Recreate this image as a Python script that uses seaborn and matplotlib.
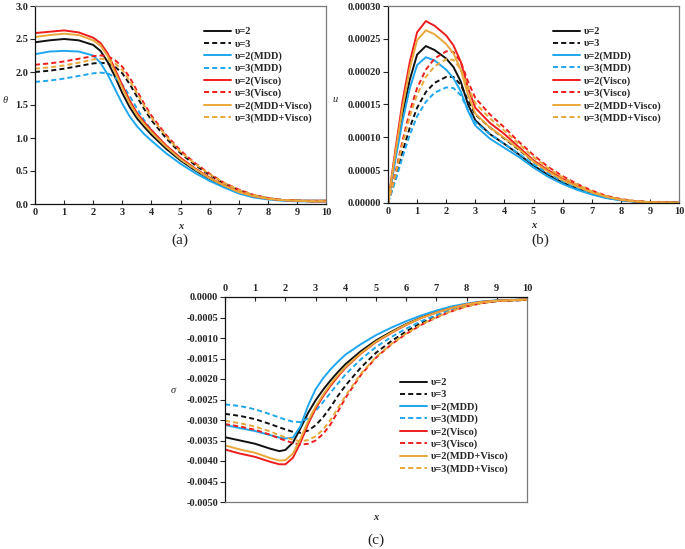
import matplotlib
matplotlib.use("Agg")
import matplotlib.pyplot as plt
import seaborn as sns
import pandas as pd
from matplotlib.ticker import FuncFormatter, MultipleLocator

# ---- data ----
labels = ["υ=2", "υ=3", "υ=2(MDD)", "υ=3(MDD)",
          "υ=2(Visco)", "υ=3(Visco)", "υ=2(MDD+Visco)", "υ=3(MDD+Visco)"]
colors = ["#111111", "#111111", "#1ea7ef", "#1ea7ef",
          "#ee1d1d", "#ee1d1d", "#e8a83a", "#e8a83a"]

# (a) theta
xa = [0, 0.5, 1, 1.5, 2, 2.25, 2.5, 2.75, 3, 3.25, 3.5, 3.75, 4, 4.5, 5,
      5.5, 6, 6.5, 7, 7.5, 8, 8.5, 9, 9.5, 10]
theta_v2 = [2.45, 2.48, 2.50, 2.48, 2.41, 2.32, 2.15, 1.93, 1.68, 1.47, 1.30, 1.17, 1.05,
            0.84, 0.66, 0.51, 0.38, 0.27, 0.18, 0.12, 0.08, 0.06, 0.05, 0.04, 0.04]
theta_v3 = [2.00, 2.02, 2.05, 2.09, 2.13, 2.14, 2.13, 2.08, 1.98, 1.82, 1.63, 1.44, 1.27,
            1.00, 0.77, 0.59, 0.44, 0.31, 0.21, 0.13, 0.09, 0.06, 0.05, 0.05, 0.05]
theta_v2_mdd = [2.27, 2.31, 2.32, 2.31, 2.25, 2.14, 1.96, 1.74, 1.52, 1.33, 1.18, 1.06, 0.96,
                0.77, 0.61, 0.47, 0.35, 0.25, 0.16, 0.10, 0.07, 0.05, 0.04, 0.04, 0.04]
theta_v3_mdd = [1.85, 1.87, 1.90, 1.94, 1.98, 1.99, 1.98, 1.92, 1.81, 1.64, 1.45, 1.27, 1.12,
                0.88, 0.68, 0.52, 0.39, 0.28, 0.18, 0.12, 0.08, 0.06, 0.05, 0.05, 0.05]
theta_v2_vis = [2.59, 2.61, 2.63, 2.60, 2.52, 2.44, 2.28, 2.04, 1.80, 1.57, 1.38, 1.24, 1.12,
                0.89, 0.70, 0.54, 0.40, 0.28, 0.19, 0.12, 0.08, 0.06, 0.05, 0.04, 0.04]
theta_v3_vis = [2.11, 2.13, 2.16, 2.20, 2.24, 2.25, 2.24, 2.18, 2.08, 1.92, 1.72, 1.52, 1.34,
                1.05, 0.81, 0.62, 0.46, 0.32, 0.22, 0.14, 0.09, 0.06, 0.05, 0.05, 0.05]
theta_v2_both = [2.53, 2.56, 2.58, 2.56, 2.48, 2.40, 2.24, 2.00, 1.76, 1.53, 1.35, 1.21, 1.09,
                 0.87, 0.68, 0.53, 0.39, 0.28, 0.18, 0.12, 0.08, 0.06, 0.05, 0.04, 0.04]
theta_v3_both = [2.05, 2.07, 2.10, 2.14, 2.19, 2.20, 2.19, 2.13, 2.03, 1.87, 1.68, 1.49, 1.31,
                 1.03, 0.79, 0.61, 0.45, 0.32, 0.21, 0.14, 0.09, 0.06, 0.05, 0.05, 0.05]

# (b) u, in units of 1e-5
xb = [0, 0.25, 0.5, 0.75, 1, 1.3, 1.6, 2, 2.25, 2.5, 2.75, 3, 3.5, 4, 4.5, 5,
      5.5, 6, 6.5, 7, 7.5, 8, 8.5, 9, 10]
u_v2 = [0, 7, 13.5, 18.8, 22.6, 23.9, 23.3, 22, 20.7, 18.5, 15, 12.6, 10.5, 9,
        7.4, 5.7, 4.3, 3.1, 2.2, 1.4, 0.8, 0.45, 0.22, 0.1, 0.04]
u_v3 = [0, 3.7, 7.8, 11.5, 14.5, 16.9, 18.3, 19.2, 19.2, 18, 15.6, 13.5, 11.5, 9.8,
        8.1, 6.3, 4.8, 3.5, 2.5, 1.6, 0.95, 0.5, 0.25, 0.12, 0.05]
u_v2_mdd = [0, 6.5, 12.5, 17.5, 21, 22.2, 21.7, 20.3, 19, 17, 14, 11.8, 9.8, 8.4,
            7, 5.4, 4.0, 2.9, 2.0, 1.3, 0.75, 0.4, 0.2, 0.1, 0.04]
u_v3_mdd = [0, 3.3, 7, 10.4, 13.2, 15.4, 16.8, 17.6, 17.5, 16.4, 14.2, 12.3, 10.5, 9,
            7.5, 5.9, 4.5, 3.3, 2.3, 1.5, 0.9, 0.48, 0.24, 0.11, 0.05]
u_v2_vis = [0, 8, 15.5, 21.5, 26, 27.7, 27, 25.5, 24, 21.5, 17.5, 14.5, 12.2, 10.5,
            8.5, 6.5, 5, 3.7, 2.6, 1.7, 1.0, 0.5, 0.25, 0.12, 0.05]
u_v3_vis = [0, 4.5, 9.5, 14, 17.5, 20.3, 22, 23.1, 23, 21.5, 18.5, 16, 13.5, 11.5,
            9.3, 7.3, 5.5, 4.1, 2.9, 1.9, 1.1, 0.6, 0.3, 0.15, 0.05]
u_v2_both = [0, 7.5, 14.5, 20.5, 24.8, 26.3, 25.7, 24.2, 22.8, 20.3, 16.5, 13.6, 11.5, 9.9,
             8.2, 6.3, 4.8, 3.5, 2.5, 1.6, 0.95, 0.5, 0.25, 0.12, 0.05]
u_v3_both = [0, 4.2, 9, 13.2, 16.5, 19.2, 20.8, 21.9, 21.8, 20.4, 17.6, 15.2, 12.9, 11,
             9, 7.0, 5.3, 3.9, 2.8, 1.8, 1.05, 0.55, 0.28, 0.13, 0.05]

# (c) sigma, in units of 1e-4
xc = [0, 0.5, 1, 1.5, 1.8, 2, 2.25, 2.5, 2.75, 3, 3.25, 3.5, 3.75, 4, 4.5, 5,
      5.5, 6, 6.5, 7, 7.5, 8, 8.5, 9, 10]
s_v2 = [-34.2, -35, -35.8, -37, -37.6, -37.3, -35.5, -32, -28.3, -25.2, -22.6, -20.3, -18.2,
        -16.3, -13.2, -10.6, -8.5, -6.6, -5, -3.7, -2.6, -1.8, -1.2, -0.9, -0.6]
s_v3 = [-28.5, -29, -29.8, -31, -31.8, -32.3, -32.9, -33.1, -32.6, -31.3, -29.3, -26.8, -24,
        -21.5, -17.2, -13.6, -10.8, -8.4, -6.3, -4.7, -3.3, -2.2, -1.4, -1.0, -0.7]
s_v2_mdd = [-31.2, -32, -32.7, -33.7, -34.3, -34.5, -34.3, -31.5, -26.5, -22.5, -19.8, -17.6, -15.7,
            -14, -11.5, -9.3, -7.5, -5.9, -4.5, -3.3, -2.3, -1.6, -1.1, -0.8, -0.6]
s_v3_mdd = [-26.2, -26.6, -27.4, -28.6, -29.4, -29.9, -30.4, -30.5, -29.6, -27.8, -25.6, -23.3, -21,
            -18.8, -15.2, -12.2, -9.8, -7.7, -5.9, -4.4, -3.1, -2.1, -1.4, -1.0, -0.7]
s_v2_vis = [-37.2, -38.2, -39, -40.2, -40.8, -40.8, -39.2, -35.5, -31, -27.2, -24.2, -21.6, -19.3,
            -17.2, -13.8, -11, -8.8, -6.8, -5.1, -3.8, -2.7, -1.8, -1.2, -0.9, -0.6]
s_v3_vis = [-31, -31.6, -32.4, -33.6, -34.5, -35, -35.6, -36, -35.8, -35, -33.4, -31, -27.8,
            -24.5, -19, -14.8, -11.6, -9, -6.8, -5, -3.5, -2.3, -1.5, -1.0, -0.7]
s_v2_both = [-36.2, -37.2, -38, -39.3, -39.9, -39.8, -38.2, -34.6, -30.3, -26.7, -23.8, -21.2, -19,
             -17, -13.7, -10.9, -8.7, -6.7, -5.1, -3.8, -2.7, -1.8, -1.2, -0.9, -0.6]
s_v3_both = [-30.2, -30.8, -31.6, -32.8, -33.7, -34.2, -34.8, -35.2, -34.9, -34, -32.3, -29.9, -27,
             -24, -18.7, -14.6, -11.5, -8.9, -6.7, -4.9, -3.4, -2.3, -1.5, -1.0, -0.7]

theta_all = [theta_v2, theta_v3, theta_v2_mdd, theta_v3_mdd,
             theta_v2_vis, theta_v3_vis, theta_v2_both, theta_v3_both]
u_all = [u_v2, u_v3, u_v2_mdd, u_v3_mdd, u_v2_vis, u_v3_vis, u_v2_both, u_v3_both]
s_all = [s_v2, s_v3, s_v2_mdd, s_v3_mdd, s_v2_vis, s_v3_vis, s_v2_both, s_v3_both]

# ---- style ----
sns.set_style("ticks")
plt.rcParams["font.family"] = ["Liberation Serif", "DejaVu Serif"]
plt.rcParams["axes.unicode_minus"] = False

fig = plt.figure(figsize=(6.85, 5.49), dpi=100)
W, H = 685, 549
TICK_FS = 7.5
LEG_FS = 7.5


def add_axes(left, top, right, bottom):
    return fig.add_axes([left / W, 1 - bottom / H, (right - left) / W, (bottom - top) / H])


def draw(ax, x, ys, scale):
    for i, (y, lab, c) in enumerate(zip(ys, labels, colors)):
        df = pd.DataFrame({"x": x, "y": [v * scale for v in y]})
        ls = "-" if i % 2 == 0 else (0, (2.6, 1.6))
        sns.lineplot(data=df, x="x", y="y", ax=ax, color=c, linestyle=ls,
                     lw=1.4, label=lab, legend=False)


def style_axes(ax, top_x=False):
    ax.set_xlim(0, 10)
    ax.xaxis.set_major_locator(MultipleLocator(1))
    for side in ["top", "right", "bottom", "left"]:
        ax.spines[side].set_visible(True)
        ax.spines[side].set_linewidth(0.9)
        ax.spines[side].set_color("#7a7a7a")
    ax.spines["left"].set_color("#111111")
    ax.spines["top" if top_x else "bottom"].set_color("#111111")
    ax.tick_params(axis="x", direction="in", length=3, width=0.8, pad=3,
                   top=top_x, bottom=not top_x, labeltop=top_x, labelbottom=not top_x)
    ax.tick_params(axis="y", direction="out", length=3.5, width=0.8, pad=1.5)
    for lab in ax.get_xticklabels() + ax.get_yticklabels():
        lab.set_fontweight("bold")
        lab.set_fontsize(TICK_FS)
    ax.legend(loc="upper left", frameon=False, handlelength=2.6, handletextpad=0.35,
              labelspacing=0.27, borderpad=0, borderaxespad=0,
              prop={"family": "Liberation Serif", "weight": "bold", "size": LEG_FS})


# (a)
ax_a = add_axes(35, 6, 326, 204)
draw(ax_a, xa, theta_all, 1.0)
ax_a.set_ylim(0, 3.0)
ax_a.yaxis.set_major_locator(MultipleLocator(0.5))
ax_a.yaxis.set_major_formatter(FuncFormatter(lambda v, p: f"{v:.1f}"))
style_axes(ax_a)
ax_a.get_legend().set_bbox_to_anchor((0.58, 0.893), transform=ax_a.transAxes)
ax_a.set_xlabel("x", fontstyle="italic", fontweight="bold", fontsize=TICK_FS)
ax_a.set_ylabel("θ", fontstyle="italic", fontsize=TICK_FS, rotation=0)
ax_a.xaxis.set_label_coords(0.5, -0.09)
ax_a.yaxis.set_label_coords(-0.103, 0.5)

# (b)
ax_b = add_axes(388, 6, 679, 203)
draw(ax_b, xb, u_all, 1e-5)
ax_b.set_ylim(0, 0.0003)
ax_b.yaxis.set_major_locator(MultipleLocator(0.00005))
ax_b.yaxis.set_major_formatter(FuncFormatter(lambda v, p: f"{v:.5f}"))
style_axes(ax_b)
ax_b.get_legend().set_bbox_to_anchor((0.568, 0.893), transform=ax_b.transAxes)
ax_b.set_xlabel("x", fontstyle="italic", fontweight="bold", fontsize=TICK_FS)
ax_b.set_ylabel("u", fontstyle="italic", fontsize=TICK_FS, rotation=0)
ax_b.xaxis.set_label_coords(0.5, -0.09)
ax_b.yaxis.set_label_coords(-0.182, 0.5)

# (c)
ax_c = add_axes(225, 297, 527, 502)
draw(ax_c, xc, s_all, 1e-4)
ax_c.set_ylim(-0.005, 0)
ax_c.yaxis.set_major_locator(MultipleLocator(0.0005))
ax_c.yaxis.set_major_formatter(
    FuncFormatter(lambda v, p: "0.0000" if abs(v) < 1e-9 else f"{v:.4f}"))
style_axes(ax_c, top_x=True)
ax_c.get_legend().set_bbox_to_anchor((0.58, 0.605), transform=ax_c.transAxes)
ax_c.set_xlabel("")
ax_c.set_ylabel("σ", fontstyle="italic", fontsize=TICK_FS, rotation=0)
ax_c.yaxis.set_label_coords(-0.172, 0.52)
ax_c.text(0.5, -0.075, "x", transform=ax_c.transAxes, ha="center", va="center",
          fontstyle="italic", fontweight="bold", fontsize=TICK_FS)

# captions
fig.text(180 / W, 1 - 240 / H, "(a)", ha="center", va="center", fontsize=11)
fig.text(540 / W, 1 - 240 / H, "(b)", ha="center", va="center", fontsize=11)
fig.text(376 / W, 1 - 540 / H, "(c)", ha="center", va="center", fontsize=11)

fig.savefig("out.png", dpi=100)
